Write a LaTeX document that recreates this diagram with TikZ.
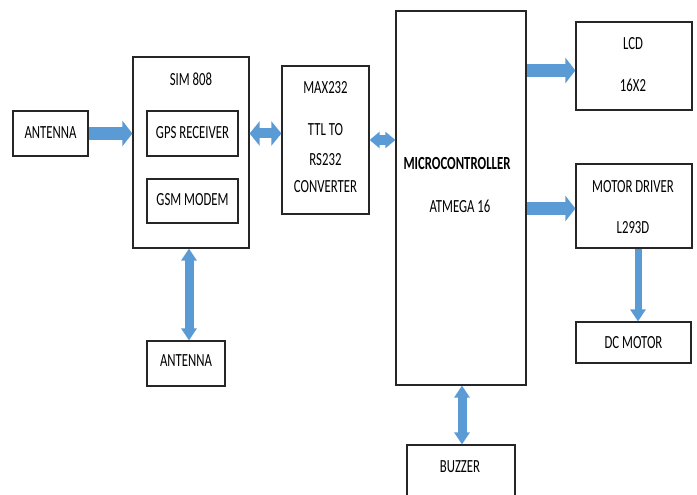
\documentclass[tikz,border=0pt]{standalone}
\usepackage{fontspec}
\setmainfont{Carlito}[FakeStretch=0.69]
\usetikzlibrary{arrows.meta,calc}
\definecolor{arrblue}{HTML}{5B9BD5}
\definecolor{boxline}{HTML}{262626}
\begin{document}
\begin{tikzpicture}[x=1pt,y=-1pt,
  box/.style={draw=boxline,line width=1.2pt,fill=white,inner sep=0pt},
  txt/.style={inner sep=0pt,font=\fontsize{18.5}{20}\selectfont,text=black},
  harr/.style={draw=arrblue,line width=13pt,-{Triangle[width=25pt,length=10pt]}},
  hdarr/.style={draw=arrblue,line width=10pt,{Triangle[width=24pt,length=10pt]}-{Triangle[width=24pt,length=10pt]}},
  hdarrs/.style={draw=arrblue,line width=9pt,{Triangle[width=16pt,length=10pt]}-{Triangle[width=16pt,length=10pt]}},
  vdarr/.style={draw=arrblue,line width=9pt,{Triangle[width=15pt,length=12pt]}-{Triangle[width=15pt,length=12pt]}},
  varr/.style={draw=arrblue,line width=7pt,-{Triangle[width=15pt,length=12pt]}}]
\useasboundingbox (0,0) rectangle (697,495);
\clip (0,0) rectangle (697,495);
% boxes
\node[box,minimum width=75pt,minimum height=45pt] (ant1) at (50.5,133.5) {};
\node[box,minimum width=116pt,minimum height=191pt] (sim) at (191,152.5) {};
\node[box,minimum width=91pt,minimum height=45pt] (gps) at (192.5,133.5) {};
\node[box,minimum width=91pt,minimum height=44pt] (gsm) at (192.5,201) {};
\node[box,minimum width=87pt,minimum height=148pt] (max) at (325.5,140) {};
\node[box,minimum width=130pt,minimum height=374pt] (mcu) at (461,198) {};
\node[box,minimum width=116pt,minimum height=88pt] (lcd) at (634,66) {};
\node[box,minimum width=116pt,minimum height=84pt] (md) at (634,206) {};
\node[box,minimum width=115pt,minimum height=41pt] (dc) at (633.5,342.5) {};
\node[box,minimum width=78pt,minimum height=45pt] (ant2) at (186,363.5) {};
\node[box,minimum width=108pt,minimum height=65pt] (buzz) at (461,477.5) {};
% texts
\node[txt] (tant1) at (50.5,132.5) {ANTENNA};
\node[txt] (tsim) at (191,79) {SIM 808};
\node[txt] (tgps) at (192.5,132.5) {GPS RECEIVER};
\node[txt] (tgsm) at (192.5,200) {GSM MODEM};
\node[txt] (tmax1) at (325.5,88) {MAX232};
\node[txt] (tmax2) at (325.5,130) {TTL TO};
\node[txt] (tmax3) at (325.5,160) {RS232};
\node[txt] (tmax4) at (325.5,187) {CONVERTER};
\node[txt,font=\fontsize{18.5}{20}\selectfont\bfseries] (tmcu1) at (457,163) {MICROCONTROLLER};
\node[txt] (tmcu2) at (460,206) {ATMEGA 16};
\node[txt] (tlcd1) at (633,44) {LCD};
\node[txt] (tlcd2) at (633,85) {16X2};
\node[txt] (tmd1) at (633,187) {MOTOR DRIVER};
\node[txt] (tmd2) at (633,228) {L293D};
\node[txt] (tdc) at (633.5,343) {DC MOTOR};
\node[txt] (tant2) at (186,361) {ANTENNA};
\node[txt] (tbuzz) at (460,467) {BUZZER};
% arrows
\draw[harr] (ant1.east) -- (sim.west |- ant1.east);
\draw[hdarr] (sim.east |- gps.east) -- (max.west |- gps.east);
\draw[hdarrs] (max.east) -- (mcu.west |- max.east);
\coordinate (lcdin) at ($(lcd.west)+(0,4.5)$);
\draw[harr] (mcu.east |- lcdin) -- (lcdin);
\coordinate (mdin) at ($(md.west)+(0,2.5)$);
\draw[harr] (mcu.east |- mdin) -- (mdin);
\coordinate (mdout) at ($(md.south)+(4,0)$);
\draw[varr] (mdout) -- (dc.north -| mdout);
\coordinate (simout) at ($(sim.south)+(-2,0)$);
\draw[vdarr] (simout) -- (ant2.north -| simout);
\coordinate (mcuout) at ($(mcu.south)+(1,0)$);
\draw[vdarr] (mcuout) -- (buzz.north -| mcuout);
\end{tikzpicture}
\end{document}
